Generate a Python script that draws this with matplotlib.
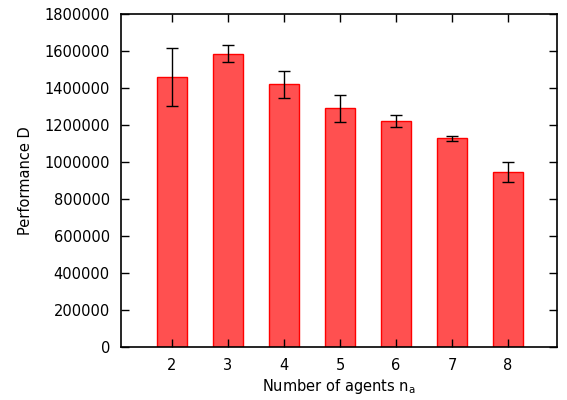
import matplotlib
matplotlib.use("Agg")
import matplotlib.pyplot as plt
import numpy as np

plt.rcParams['font.family'] = ['DejaVu Sans']
plt.rcParams['font.size'] = 10.5

agents = [2, 3, 4, 5, 6, 7, 8]
performance = [1460000, 1585000, 1421000, 1291000, 1221000, 1128000, 946000]
errors = [157000, 47000, 73000, 73000, 31000, 14000, 54000]

fig = plt.figure(figsize=(5.67, 4.0), dpi=100)
ax = fig.add_axes([121/567, 53/400, 436/567, 333/400])

ax.bar(agents, performance, width=0.52, color='#ff5050', edgecolor='#ff0000', linewidth=1.0,
       yerr=errors, error_kw=dict(ecolor='black', elinewidth=1.0, capsize=4, capthick=1.0))

ax.set_xlim(1.09, 8.875)
ax.set_ylim(0, 1800000)
ax.set_xticks(agents)
ax.set_yticks(np.arange(0, 1800001, 200000))
ax.set_yticklabels([str(v) for v in range(0, 1800001, 200000)])
ax.tick_params(direction='in', length=6, width=1, top=True, right=True, pad=8)
for s in ax.spines.values():
    s.set_linewidth(1.2)

ax.set_xlabel(r'Number of agents n$_\mathregular{a}$', labelpad=3)
ax.set_ylabel('Performance D', labelpad=8)

fig.savefig('out.png', dpi=100)
